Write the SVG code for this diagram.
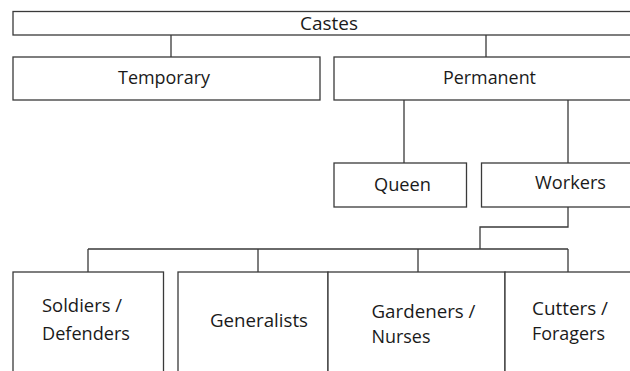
<svg xmlns="http://www.w3.org/2000/svg" width="630" height="371" viewBox="0 0 630 371">
<style>
.box{fill:#fff;stroke:#3a3a3a;stroke-width:1.3}
.ln{fill:none;stroke:#3a3a3a;stroke-width:1.3}
text{font-family:"Open Sans","Noto Sans",sans-serif;font-size:17.5px;fill:#1a1a1a}
.c{text-anchor:middle}
</style>
<rect width="630" height="371" fill="#fff"/>
<g id="connectors">
<path class="ln" d="M171,35V57M486,35V57M404,100V163M568,100V163M568,207V227H480V249M88,249H568M88,249V272M258,249V272M418,249V272M568,249V272"/>
</g>
<g id="castes"><rect class="box" x="13" y="11.5" width="630" height="23.5"/><text class="c" x="329" y="30" textLength="58" lengthAdjust="spacingAndGlyphs">Castes</text></g>
<g id="temporary"><rect class="box" x="13" y="57" width="307" height="43"/><text class="c" x="164" y="84" textLength="92" lengthAdjust="spacingAndGlyphs">Temporary</text></g>
<g id="permanent"><rect class="box" x="334" y="57" width="310" height="43"/><text class="c" x="489.5" y="84" textLength="93" lengthAdjust="spacingAndGlyphs">Permanent</text></g>
<g id="queen"><rect class="box" x="334" y="163" width="132.5" height="44"/><text class="c" x="402.5" y="191" textLength="57" lengthAdjust="spacingAndGlyphs">Queen</text></g>
<g id="workers"><rect class="box" x="481.5" y="163" width="160" height="44"/><text class="c" x="570.5" y="188.5" textLength="71" lengthAdjust="spacingAndGlyphs">Workers</text></g>
<g id="soldiers"><rect class="box" x="13" y="272" width="150.5" height="110"/><text x="42" y="312" textLength="80" lengthAdjust="spacingAndGlyphs">Soldiers /</text><text x="42" y="340" textLength="88" lengthAdjust="spacingAndGlyphs">Defenders</text></g>
<g id="generalists"><rect class="box" x="178" y="272" width="150" height="110"/><text x="210" y="327" textLength="98" lengthAdjust="spacingAndGlyphs">Generalists</text></g>
<g id="gardeners"><rect class="box" x="328" y="272" width="177" height="110"/><text x="371.5" y="318" textLength="104" lengthAdjust="spacingAndGlyphs">Gardeners /</text><text x="371.5" y="343" textLength="59" lengthAdjust="spacingAndGlyphs">Nurses</text></g>
<g id="cutters"><rect class="box" x="505" y="272" width="140" height="110"/><text x="532" y="315" textLength="76" lengthAdjust="spacingAndGlyphs">Cutters /</text><text x="532" y="340" textLength="73" lengthAdjust="spacingAndGlyphs">Foragers</text></g>
</svg>
